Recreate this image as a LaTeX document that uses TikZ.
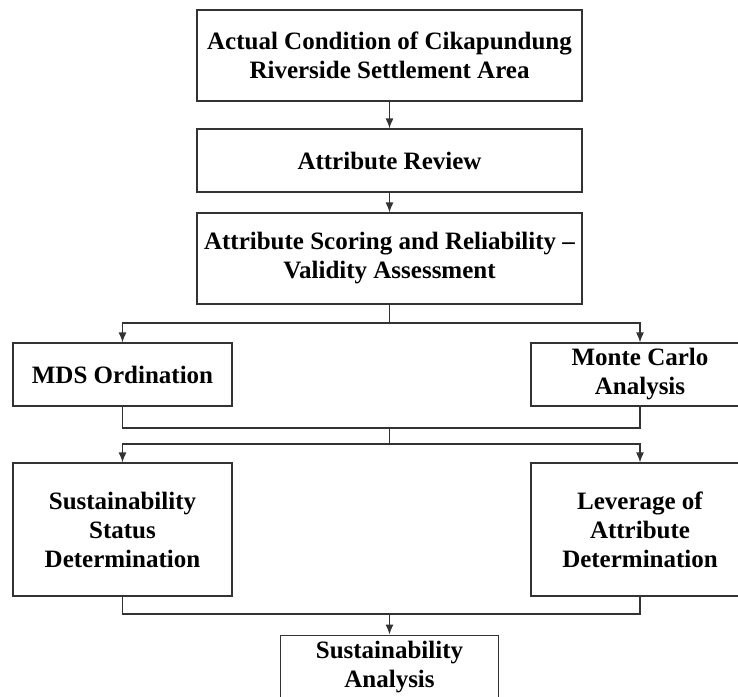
\documentclass[tikz,border=0pt]{standalone}
\usepackage{fontspec}
\setmainfont{Liberation Serif}
\usetikzlibrary{shapes,arrows.meta}

\begin{document}
\begin{tikzpicture}[x=1pt,y=1pt,
    box/.style={draw=black!80,line width=1.2pt,align=center,inner sep=2pt,
      font=\bfseries\fontsize{25}{29}\selectfont},
    link/.style={draw=black!80,line width=1.2pt},
    tip/.style={-{Latex[length=10pt,width=8pt]}}]
    \useasboundingbox (0,0) rectangle (738,-696);
    \clip (0,0) rectangle (738,-696);
    \coordinate (B1) at (389.5,-323);
    \coordinate (B2) at (389.5,-428);
    \coordinate (B3) at (389.5,-444);
    \coordinate (B4) at (389.5,-614);
      \node [box,minimum width=385,minimum height=91] (cond) at (389.5,-55.5)
        {Actual Condition of Cikapundung\\Riverside Settlement Area};
      \node [box,minimum width=385,minimum height=63] (review) at (389.5,-160.5)
        {Attribute Review};
      \node [box,minimum width=385,minimum height=91] (scoring) at (389.5,-258.5)
        {Attribute Scoring and Reliability --\\Validity Assessment};
      \node [box,minimum width=219,minimum height=63] (mds) at (122.5,-374.5)
        {MDS Ordination};
      \node [box,minimum width=218,minimum height=63] (monte) at (640,-374.5)
        {Monte Carlo\\Analysis};
      \node [box,minimum width=219,minimum height=133] (status) at (122.5,-529.5)
        {Sustainability\\Status\\Determination};
      \node [box,minimum width=218,minimum height=133] (leverage) at (640,-529.5)
        {Leverage of\\Attribute\\Determination};
      \node [box,minimum width=218,inner ysep=6pt,anchor=north] (analysis) at (389.5,-634.5)
        {Sustainability\\Analysis};
      \draw [link,tip] (cond) -- (review);
      \draw [link,tip] (review) -- (scoring);
      \draw [link] (scoring) -- (B1);
      \draw [link,tip] (B1) -| (mds);
      \draw [link,tip] (B1) -| (monte);
      \draw [link] (mds) |- (B2);
      \draw [link] (monte) |- (B2);
      \draw [link] (B2) -- (B3);
      \draw [link,tip] (B3) -| (status);
      \draw [link,tip] (B3) -| (leverage);
      \draw [link] (status) |- (B4);
      \draw [link] (leverage) |- (B4);
      \draw [link,tip] (B4) -- (analysis);
  \end{tikzpicture}
\end{document}
